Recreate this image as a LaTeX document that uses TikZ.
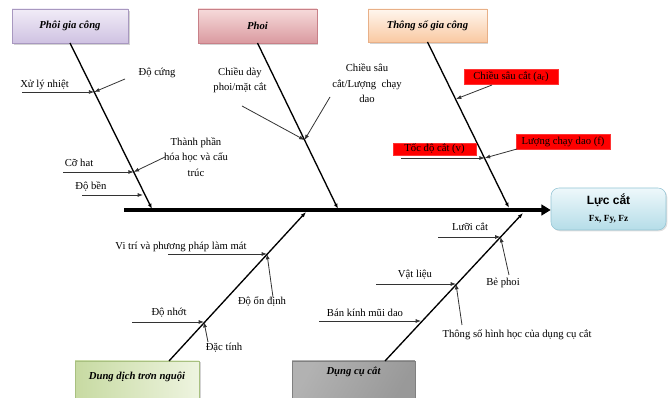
\documentclass[tikz,border=0pt]{standalone}
\usepackage{fontspec}
\setmainfont{Liberation Serif}
\newfontfamily\lsans{Liberation Sans}
\usetikzlibrary{arrows.meta,shadows}
\definecolor{purT}{HTML}{F1ECF7}
\definecolor{purB}{HTML}{CFC2E2}
\definecolor{purD}{HTML}{A898C0}
\definecolor{pinT}{HTML}{F6DADA}
\definecolor{pinB}{HTML}{DA9AA0}
\definecolor{pinD}{HTML}{C88088}
\definecolor{oraT}{HTML}{FFF6EE}
\definecolor{oraB}{HTML}{F9C9A2}
\definecolor{oraD}{HTML}{E8B088}
\definecolor{bluT}{HTML}{EEF8FB}
\definecolor{bluB}{HTML}{B5DDE8}
\definecolor{bluD}{HTML}{93C4D4}
\definecolor{grnL}{HTML}{C7DAA2}
\definecolor{grnR}{HTML}{EEF4E0}
\definecolor{grnD}{HTML}{A8C080}
\begin{document}
\begin{tikzpicture}[x=0.75pt,y=-0.75pt,
  lbl/.style={font=\fontsize{8}{11.5}\selectfont, inner sep=0pt, align=center},
  cat/.style={minimum width=89pt, minimum height=25.5pt, inner sep=0pt,
    font=\fontsize{8}{10}\selectfont\bfseries\itshape,
    drop shadow={shadow xshift=1.2pt, shadow yshift=-1.2pt, opacity=0.35}},
  redbox/.style={fill=red, draw=red!80!white, inner sep=0pt,
    font=\fontsize{8}{9}\selectfont},
  bone/.style={line width=1pt, -{Latex[length=4pt,width=3pt]}},
  twig/.style={line width=0.6pt, black!80, -{Latex[length=4pt,width=3pt]}},
]
\clip (0,0) rectangle (672,398);
\useasboundingbox (0,0) rectangle (672,398);

% category boxes
\node[cat, draw=purD, top color=purT, bottom color=purB, minimum width=87pt] (c1) at (70,26) {Phôi gia công};
\node[cat, draw=pinD, top color=pinT, bottom color=pinB] (c2) at (257.5,26) {Phoi};
\node[cat, draw=oraD, top color=oraT, bottom color=oraB, minimum height=24.75pt] (c3) at (427.5,25.5) {Thông số gia công};
\node[cat, draw=grnD, left color=grnL, right color=grnR, minimum width=93pt, minimum height=28pt] (c4) at (137,379.5) {};
\node[font=\fontsize{8}{10}\selectfont\bfseries\itshape, inner sep=0pt] (c4t) at (137,377) {Dung dịch trơn nguội};
\node[cat, draw=gray, left color=gray!60, middle color=gray!12, right color=gray!80, minimum width=92pt, minimum height=28pt, shading angle=60] (c5) at (353.5,379.5) {};
\node[font=\fontsize{8}{10}\selectfont\bfseries\itshape, inner sep=0pt] (c5t) at (353.5,372) {Dụng cụ cắt};

% effect box
\node[draw=bluD, top color=bluT, bottom color=bluB, rounded corners=6pt,
  minimum width=86.25pt, minimum height=31.5pt, inner sep=0pt, align=center,
  drop shadow={shadow xshift=1pt, shadow yshift=-1pt, opacity=0.25}] (eff) at (608.5,209)
  {{\lsans\bfseries\fontsize{9}{11}\selectfont Lực cắt}\\[1pt]{\bfseries\fontsize{7}{8}\selectfont Fx, Fy, Fz}};

% spine
\coordinate (s0) at (124,210);
\draw[line width=2.4pt, -{Triangle[length=7pt,width=8pt]}] (s0) -- (eff.west |- s0);

% bone ends
\coordinate (b1s) at (70,43);   \coordinate (b1e) at (152,209);
\coordinate (b2s) at (257.5,43); \coordinate (b2e) at (338,209);
\coordinate (b3s) at (427.5,42); \coordinate (b3e) at (509,208);
\coordinate (b4s) at (169,361); \coordinate (b4e) at (306,212);
\coordinate (b5s) at (385,361); \coordinate (b5e) at (523,213);
\draw[bone] (b1s) -- (b1e);
\draw[bone] (b2s) -- (b2e);
\draw[bone] (b3s) -- (b3e);
\draw[bone] (b4s) -- (b4e);
\draw[bone] (b5s) -- (b5e);

% junctions
\coordinate (j1) at (94.2,92);
\coordinate (j2) at (133.7,172);
\coordinate (j2b) at (143,195);
\coordinate (j3) at (304.5,140);
\coordinate (j4) at (456,99);
\coordinate (j5) at (484.8,158);
\coordinate (j6) at (267,254);
\coordinate (j7) at (204,322);
\coordinate (j8) at (500.5,237);
\coordinate (j9) at (456,284);
\coordinate (j10) at (421,321);

% labels
\node[lbl] (t1) at (44.5,85) {Xử lý nhiệt};
\node[lbl] (t2) at (157,73) {Độ cứng};
\node[lbl] (t3) at (79,163) {Cỡ hat};
\node[lbl] (t4) at (196,157) {Thành phần\\hóa học và cấu\\trúc};
\node[lbl] (t5) at (91,187) {Độ bền};
\node[lbl] (t6) at (240,80.5) {Chiều dày\\phoi/mặt cắt};
\node[lbl] (t7) at (367,83.5) {Chiều sâu\\cắt/Lượng~~chạy\\dao};
\node[redbox, minimum width=70.5pt, minimum height=11.25pt] (r1) at (511,76.5) {Chiều sâu cắt (a\textsubscript{r})};
\node[redbox, minimum width=62.25pt, minimum height=9pt] (r2) at (434.5,149) {Tốc độ cắt (v)};
\node[redbox, minimum width=70.5pt, minimum height=11.25pt] (r3) at (563,141.5) {Lượng chạy dao (f)};
\node[lbl] (t8) at (181,247) {Vi trí và phương pháp làm mát};
\node[lbl] (t9) at (262,302) {Độ ổn định};
\node[lbl] (t10) at (169,313) {Độ nhớt};
\node[lbl] (t11) at (224,348) {Đặc tính};
\node[lbl] (t12) at (470,227) {Lưỡi cắt};
\node[lbl] (t13) at (503,283) {Bẻ phoi};
\node[lbl] (t14) at (415,275) {Vật liệu};
\node[lbl] (t15) at (517,335) {Thông số hình học của dụng cụ cắt};
\node[lbl] (t16) at (365,313) {Bán kính mũi dao};

% twig tails
\coordinate (a1) at (22,92);
\coordinate (a2) at (125,79);
\coordinate (a3) at (63,172);
\coordinate (a4) at (165,157);
\coordinate (a5) at (82,195);
\coordinate (a6) at (242,106);
\coordinate (a7) at (330,97);
\coordinate (a8) at (492,85);
\coordinate (a9) at (401,158);
\coordinate (a10) at (517,149);
\coordinate (a11) at (168,254);
\coordinate (a12) at (273,297);
\coordinate (a13) at (132,322);
\coordinate (a14) at (208,342);
\coordinate (a15) at (438,237);
\coordinate (a16) at (509,275);
\coordinate (a17) at (376,284);
\coordinate (a18) at (462,325);
\coordinate (a19) at (319,321);

\draw[twig] (a1) -- (j1);
\draw[twig] (a2) -- (j1);
\draw[twig] (a3) -- (j2);
\draw[twig] (a4) -- (j2);
\draw[twig] (a5) -- (j2b);
\draw[twig] (a6) -- (j3);
\draw[twig] (a7) -- (j3);
\draw[twig] (a8) -- (j4);
\draw[twig] (a9) -- (j5);
\draw[twig] (a10) -- (j5);
\draw[twig] (a11) -- (j6);
\draw[twig] (a12) -- (j6);
\draw[twig] (a13) -- (j7);
\draw[twig] (a14) -- (j7);
\draw[twig] (a15) -- (j8);
\draw[twig] (a16) -- (j8);
\draw[twig] (a17) -- (j9);
\draw[twig] (a18) -- (j9);
\draw[twig] (a19) -- (j10);
\end{tikzpicture}
\end{document}
